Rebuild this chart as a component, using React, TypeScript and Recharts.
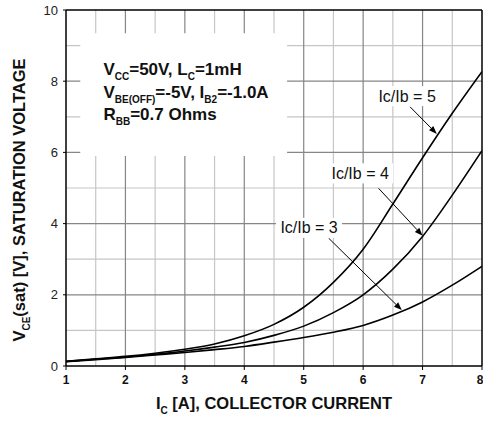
import React from 'react';
import {
  LineChart, Line, XAxis, YAxis, ReferenceArea, ReferenceLine, ReferenceDot, Label,
} from 'recharts';

const IC = [1, 1.5, 2, 2.5, 3, 3.5, 4, 4.5, 5, 5.5, 6, 6.5, 7, 7.5, 8];
const RATIO3 = [0.12, 0.18, 0.24, 0.31, 0.38, 0.46, 0.55, 0.67, 0.8, 0.95, 1.14, 1.43, 1.8, 2.27, 2.8];
const RATIO4 = [0.13, 0.19, 0.25, 0.33, 0.42, 0.53, 0.66, 0.86, 1.12, 1.5, 2.0, 2.72, 3.64, 4.8, 6.05];
const RATIO5 = [0.13, 0.2, 0.27, 0.36, 0.47, 0.62, 0.85, 1.17, 1.65, 2.35, 3.28, 4.55, 5.85, 7.1, 8.27];

const X_TICKS = [1, 2, 3, 4, 5, 6, 7, 8];
const X_MINOR = [1.5, 2.5, 3.5, 4.5, 5.5, 6.5, 7.5];
const Y_TICKS = [0, 2, 4, 6, 8, 10];
const Y_MINOR = [1, 3, 5, 7, 9];

// curve labels: text, label centre, arrow start, arrow end (data coordinates)
const CURVE_LABELS = ['Ic/Ib = 5', 'Ic/Ib = 4', 'Ic/Ib = 3'];
const LABEL_POS = [[6.74, 7.58], [5.95, 5.41], [5.09, 3.88]];
const ARROW_FROM = [[6.79, 7.28], [6.26, 4.99], [5.42, 3.59]];
const ARROW_TO = [[7.24, 6.52], [7.0, 3.66], [6.65, 1.57]];

// conditions box
const BOX_X = [1.24, 4.72];
const BOX_Y = [5.9, 9.35];
const COND_LINES = [
  [['V', false], ['CC', true], ['=50V, L', false], ['C', true], ['=1mH', false]],
  [['V', false], ['BE(OFF)', true], ['=-5V, I', false], ['B2', true], ['=-1.0A', false]],
  [['R', false], ['BB', true], ['=0.7 Ohms', false]],
];
const COND_POS = [[1.63, 8.17], [1.63, 7.53], [1.63, 6.91]];

const data = IC.map((x, i) => ({ x, r3: RATIO3[i], r4: RATIO4[i], r5: RATIO5[i] }));

const FONT = '"Liberation Sans", Arial, Helvetica, sans-serif';
const MINOR_GRID = '#c6c6c6';
const MAJOR_GRID = '#868686';

function SubText({ parts, size, sub }: { parts: any[]; size: number; sub: number }) {
  const out: any[] = [];
  let down = false;
  parts.forEach(([t, s]: any, i: number) => {
    let dy = 0;
    if (s && !down) { dy = size * 0.28; down = true; }
    else if (!s && down) { dy = -size * 0.28; down = false; }
    out.push(
      <tspan key={i} dy={dy} fontSize={s ? sub : size}>{t}</tspan>
    );
  });
  return <>{out}</>;
}

const XLabel = (props: any) => {
  const vb = props.viewBox;
  return (
    <text x={vb.x + vb.width / 2} y={vb.y + 43} textAnchor="middle" fontFamily={FONT} fontWeight="bold" fontSize={16.5} fill="#111">
      <SubText parts={[['I', false], ['C', true], [' [A], COLLECTOR CURRENT', false]]} size={16.5} sub={10} />
    </text>
  );
};

const YLabel = (props: any) => {
  const vb = props.viewBox;
  const cx = vb.x + 25;
  const cy = vb.y + vb.height / 2 + 12;
  return (
    <text x={cx} y={cy} transform={`rotate(-90, ${cx}, ${cy})`} textAnchor="middle" fontFamily={FONT} fontWeight="bold" fontSize={16.5} fill="#111">
      <SubText parts={[['V', false], ['CE', true], ['(sat) [V], SATURATION VOLTAGE', false]]} size={16.5} sub={10} />
    </text>
  );
};

const Arrow = (props: any) => {
  const { x1, y1, x2, y2 } = props;
  const ang = Math.atan2(y2 - y1, x2 - x1);
  const L = 8, W = 3;
  const bx = x2 - L * Math.cos(ang);
  const by = y2 - L * Math.sin(ang);
  const px = -Math.sin(ang) * W;
  const py = Math.cos(ang) * W;
  return (
    <g>
      <line x1={x1} y1={y1} x2={bx} y2={by} stroke="#000" strokeWidth={1} />
      <polygon points={`${x2},${y2} ${bx + px},${by + py} ${bx - px},${by - py}`} fill="#000" />
    </g>
  );
};

const makeCurveLabel = (text: string) => (p: any) => (
  <g>
    <rect x={p.cx - 33} y={p.cy - 10} width={66} height={20} fill="#fff" />
    <text x={p.cx} y={p.cy + 5.5} textAnchor="middle" fontFamily={FONT} fontSize={16} fill="#111">{text}</text>
  </g>
);

const makeCondLine = (parts: any[]) => (p: any) => (
  <text x={p.cx} y={p.cy} fontFamily={FONT} fontWeight="bold" fontSize={17} fill="#111">
    <SubText parts={parts} size={17} sub={10} />
  </text>
);

export default function App() {
  return (
    <div style={{ position: 'absolute', left: 0, top: 0, width: 483, height: 424, background: '#fff' }}>
      <LineChart width={483} height={424} data={data} margin={{ top: 10, right: 1, bottom: 0, left: 0 }}>
        <XAxis type="number" dataKey="x" domain={[1, 8]} ticks={X_TICKS} height={58} allowDataOverflow
          axisLine={{ stroke: '#000', strokeWidth: 1.5 }} tickLine={{ stroke: '#000' }} tickSize={4} tickMargin={5}
          tick={{ fontFamily: FONT, fontWeight: 'bold', fontSize: 12, fill: '#111' }}>
          <Label content={XLabel} />
        </XAxis>
        <YAxis type="number" domain={[0, 10]} ticks={Y_TICKS} width={66} allowDataOverflow
          axisLine={{ stroke: '#000', strokeWidth: 1.5 }} tickLine={{ stroke: '#000' }} tickSize={3} tickMargin={5}
          tick={{ fontFamily: FONT, fontSize: 13, fill: '#222' }}>
          <Label content={YLabel} />
        </YAxis>
        {X_MINOR.map((v) => (
          <ReferenceLine key={'xm' + v} x={v} stroke={MINOR_GRID} strokeWidth={1.2} zIndex={10} />
        ))}
        {Y_MINOR.map((v) => (
          <ReferenceLine key={'ym' + v} y={v} stroke={MINOR_GRID} strokeWidth={1.2} zIndex={10} />
        ))}
        {X_TICKS.slice(1, -1).map((v) => (
          <ReferenceLine key={'xM' + v} x={v} stroke={MAJOR_GRID} strokeWidth={1.2} zIndex={11} />
        ))}
        {Y_TICKS.slice(1, -1).map((v) => (
          <ReferenceLine key={'yM' + v} y={v} stroke={MAJOR_GRID} strokeWidth={1.2} zIndex={11} />
        ))}
        <ReferenceLine y={10} stroke="#000" strokeWidth={1.5} zIndex={12} />
        <ReferenceLine x={8} stroke="#000" strokeWidth={1.5} zIndex={12} />
        <ReferenceArea x1={BOX_X[0]} x2={BOX_X[1]} y1={BOX_Y[0]} y2={BOX_Y[1]} fill="#fff" fillOpacity={1} stroke="none" zIndex={20} />
        {COND_LINES.map((parts, i) => (
          <ReferenceDot key={'c' + i} x={COND_POS[i][0]} y={COND_POS[i][1]} r={0} shape={makeCondLine(parts)} zIndex={30} />
        ))}
        <Line type="monotone" dataKey="r3" stroke="#000" strokeWidth={1.6} dot={false} isAnimationActive={false} />
        <Line type="monotone" dataKey="r4" stroke="#000" strokeWidth={1.6} dot={false} isAnimationActive={false} />
        <Line type="monotone" dataKey="r5" stroke="#000" strokeWidth={1.6} dot={false} isAnimationActive={false} />
        {CURVE_LABELS.map((t, i) => (
          <ReferenceLine key={'a' + i} segment={[{ x: ARROW_FROM[i][0], y: ARROW_FROM[i][1] }, { x: ARROW_TO[i][0], y: ARROW_TO[i][1] }]} shape={Arrow} zIndex={900} />
        ))}
        {CURVE_LABELS.map((t, i) => (
          <ReferenceDot key={'l' + i} x={LABEL_POS[i][0]} y={LABEL_POS[i][1]} r={0} shape={makeCurveLabel(t)} zIndex={1000} />
        ))}
      </LineChart>
    </div>
  );
}
